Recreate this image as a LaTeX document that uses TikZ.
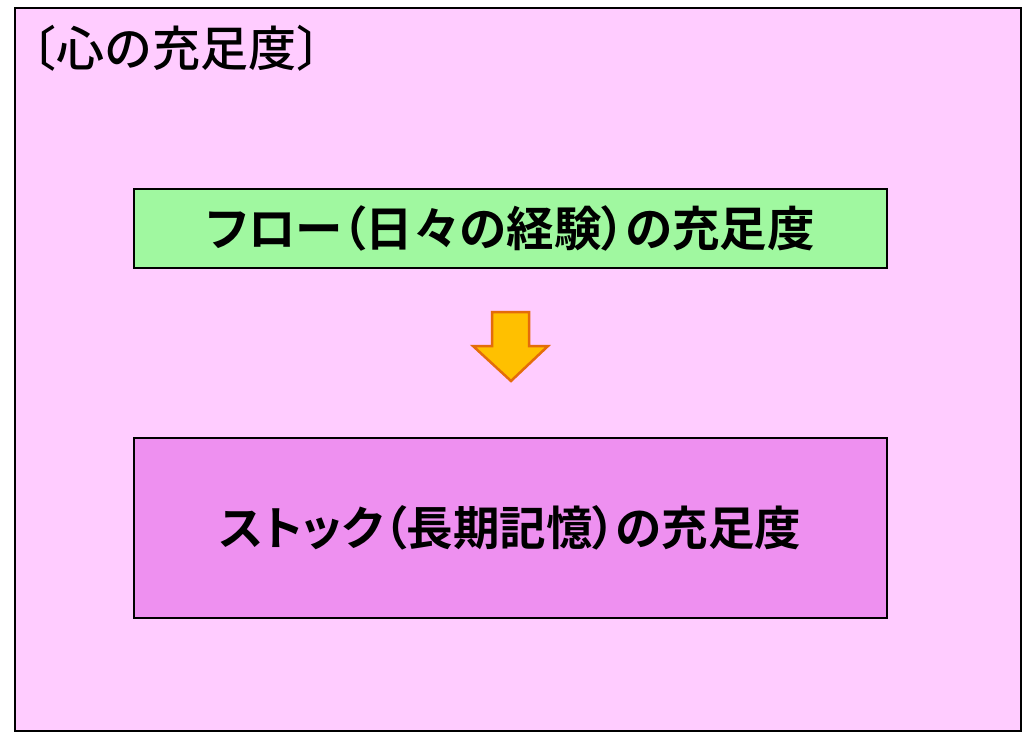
\documentclass[tikz,border=0pt]{standalone}
\usepackage{fontspec}
\setmainfont{Noto Sans CJK JP Medium}
\newfontfamily\jpbold{Noto Sans CJK JP Bold}[RawFeature=+palt]
\begin{document}
\begin{tikzpicture}[x=1pt,y=-1pt]
\useasboundingbox (0,0) rectangle (1024,733);
\definecolor{bgpink}{RGB}{255,204,255}
\definecolor{flowgreen}{RGB}{160,248,160}
\definecolor{stockpink}{RGB}{238,144,240}
\definecolor{arrowfill}{RGB}{255,192,0}
\definecolor{arrowdraw}{RGB}{228,108,10}
\tikzset{box/.style = {draw = black, line width = 1.2pt, inner sep = 0pt}}
\draw [fill = bgpink, draw = black, line width = 1.5pt] (15,8) rectangle (1021,731);
\node [anchor = west, inner sep = 0pt, font = \fontsize{48}{50}\selectfont] (title) at (8,48) {〔心の充足度〕};
\node [box, fill = flowgreen, minimum width = 753pt, minimum height = 79pt, font = \jpbold\fontsize{47.5}{50}\selectfont] (flow) at (510.5,228.5) {フロー（日々の経験）の充足度};
\node [box, fill = stockpink, minimum width = 753pt, minimum height = 180pt, font = \jpbold\fontsize{46.5}{49}\selectfont] (stock) at (510.5,528) {ストック（長期記憶）の充足度};
\draw [fill = arrowfill, draw = arrowdraw, line width = 2.5pt, line join = miter] (492,312) -- (529,312) -- (529,346) -- (548,346) -- (511,381) -- (473,346) -- (492,346) -- cycle;
\end{tikzpicture}
\end{document}
